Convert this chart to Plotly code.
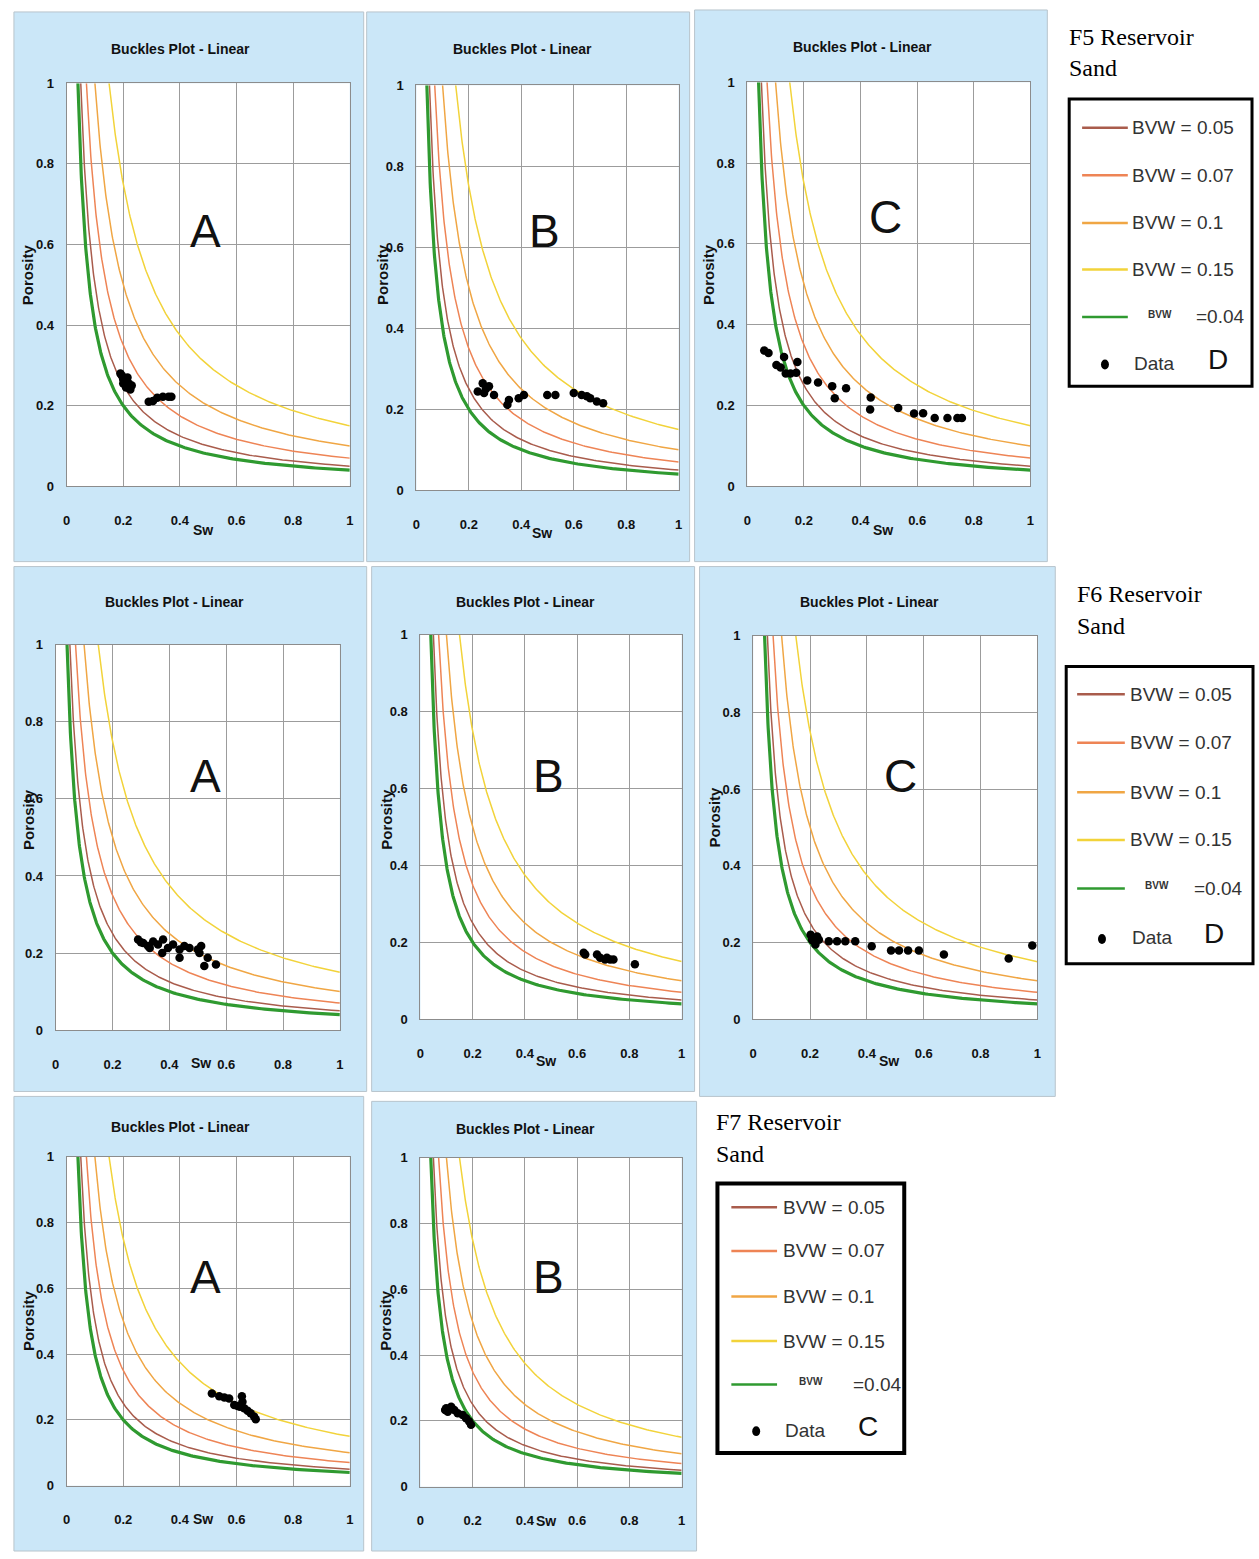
import numpy as np
import plotly.graph_objects as go

W, H = 1259, 1559

# ---------------- data ----------------
bvw_values = [0.05, 0.07, 0.1, 0.15, 0.04]
bvw_labels = ["BVW = 0.05", "BVW = 0.07", "BVW = 0.1", "BVW = 0.15"]
axis_ticks = [0, 0.2, 0.4, 0.6, 0.8, 1]
axis_tick_labels = ["0", "0.2", "0.4", "0.6", "0.8", "1"]
panel_letters = ["A", "B", "C", "A", "B", "C", "A", "B"]
group_titles = ["F5 Reservoir", "F6 Reservoir", "F7 Reservoir"]
legend_tags = ["D", "D", "C"]

f5a_sw = [0.19, 0.195, 0.2, 0.205, 0.21, 0.2, 0.215, 0.22, 0.225, 0.21, 0.22, 0.23, 0.2, 0.215,
          0.29, 0.305, 0.32, 0.34, 0.36, 0.37]
f5a_phi = [0.28, 0.275, 0.27, 0.265, 0.26, 0.255, 0.25, 0.245, 0.24, 0.245, 0.255, 0.25, 0.265, 0.27,
           0.21, 0.212, 0.22, 0.222, 0.222, 0.222]

f5b_sw = [0.234, 0.253, 0.277, 0.296, 0.258, 0.265, 0.347, 0.353, 0.39, 0.41, 0.499, 0.53,
          0.6, 0.63, 0.65, 0.663, 0.688, 0.712]
f5b_phi = [0.244, 0.264, 0.257, 0.235, 0.24, 0.25, 0.211, 0.223, 0.227, 0.235, 0.235, 0.235,
           0.24, 0.235, 0.232, 0.227, 0.219, 0.215]

f5c_sw = [0.06, 0.075, 0.13, 0.103, 0.118, 0.136, 0.153, 0.173, 0.177, 0.212, 0.25, 0.3, 0.309,
          0.349, 0.436, 0.434, 0.533, 0.589, 0.621, 0.662, 0.707, 0.742, 0.758]
f5c_phi = [0.336, 0.33, 0.32, 0.3, 0.294, 0.279, 0.279, 0.281, 0.308, 0.262, 0.257, 0.248, 0.218,
           0.243, 0.22, 0.19, 0.194, 0.18, 0.181, 0.169, 0.169, 0.169, 0.169]

f6a_sw = [0.29, 0.308, 0.325, 0.343, 0.36, 0.378, 0.375, 0.395, 0.413, 0.436, 0.436, 0.453, 0.471,
          0.5, 0.506, 0.512, 0.523, 0.535, 0.564, 0.331, 0.3]
f6a_phi = [0.235, 0.226, 0.218, 0.23, 0.222, 0.235, 0.2, 0.213, 0.222, 0.209, 0.188, 0.218, 0.213,
           0.209, 0.2, 0.218, 0.166, 0.188, 0.17, 0.213, 0.228]

f6b_sw = [0.625, 0.631, 0.676, 0.688, 0.707, 0.726, 0.739, 0.714, 0.821]
f6b_phi = [0.173, 0.168, 0.168, 0.16, 0.155, 0.155, 0.155, 0.16, 0.143]

f6c_sw = [0.202, 0.207, 0.219, 0.21, 0.231, 0.225, 0.266, 0.295, 0.324, 0.359, 0.417, 0.485,
          0.513, 0.545, 0.583, 0.671, 0.899, 0.982]
f6c_phi = [0.22, 0.207, 0.195, 0.205, 0.207, 0.216, 0.203, 0.203, 0.203, 0.203, 0.19, 0.179,
           0.179, 0.179, 0.179, 0.169, 0.158, 0.192]

f7a_sw = [0.513, 0.539, 0.557, 0.574, 0.592, 0.604, 0.619, 0.621, 0.627, 0.639, 0.65, 0.662,
          0.668, 0.612]
f7a_phi = [0.28, 0.272, 0.268, 0.265, 0.245, 0.242, 0.272, 0.255, 0.235, 0.228, 0.22, 0.21,
           0.202, 0.24]

f7b_sw = [0.099, 0.118, 0.13, 0.105, 0.143, 0.162, 0.175, 0.187, 0.194, 0.095, 0.11]
f7b_phi = [0.238, 0.243, 0.233, 0.228, 0.223, 0.218, 0.208, 0.198, 0.188, 0.233, 0.236]

panel_sw = [f5a_sw, f5b_sw, f5c_sw, f6a_sw, f6b_sw, f6c_sw, f7a_sw, f7b_sw]
panel_phi = [f5a_phi, f5b_phi, f5c_phi, f6a_phi, f6b_phi, f6c_phi, f7a_phi, f7b_phi]

# ---------------- styles / layout geometry (pixels) ----------------
curve_colors = ["#a95c4c", "#ee8455", "#f0a644", "#f2d33a", "#2f9a30"]
curve_widths = [1.5, 1.5, 1.5, 1.5, 3.2]
panel_bg = "#cbe7f8"
SANS = "Liberation Sans, Arial, sans-serif"
SERIF = "Liberation Serif, Times New Roman, serif"

# bg rect (x0,y0,x1,y1), plot (xl,xr,ytop,ybot), title, porosity label, Sw label, letter
panels = [
    dict(bg=(10, 5, 362, 560), plot=(63, 348, 77, 484), title=(178, 42), por=(24, 270), sw=(200, 528), let=(203, 226)),
    dict(bg=(365, 5, 690, 560), plot=(415, 679, 79, 488), title=(522, 42), por=(381, 270), sw=(541, 531), let=(544, 226)),
    dict(bg=(695, 3, 1050, 560), plot=(748, 1033, 76, 484), title=(864, 40), por=(709, 270), sw=(885, 528), let=(887, 212)),
    dict(bg=(10, 565, 365, 1095), plot=(52, 338, 644, 1033), title=(172, 601), por=(24, 820), sw=(198, 1066), let=(203, 776)),
    dict(bg=(370, 565, 695, 1095), plot=(419, 682, 634, 1022), title=(525, 601), por=(385, 820), sw=(545, 1064), let=(548, 776)),
    dict(bg=(700, 565, 1058, 1100), plot=(754, 1040, 635, 1022), title=(871, 601), por=(715, 818), sw=(891, 1064), let=(902, 776)),
    dict(bg=(10, 1100, 362, 1559), plot=(63, 348, 1161, 1493), title=(178, 1131), por=(24, 1326), sw=(200, 1527), let=(203, 1282)),
    dict(bg=(370, 1105, 697, 1559), plot=(419, 682, 1162, 1494), title=(525, 1133), por=(384, 1326), sw=(545, 1529), let=(548, 1282)),
]

legends = [
    dict(head=(1070, 30), box=(1072, 93, 1256, 383), lx=(1085, 1131), tx=1133,
         ys=[122, 170, 218, 265, 313, 360], small=1163, eq=1198, dot=1108, data=1135, tag=1222, bw=3),
    dict(head=(1078, 593), box=(1069, 666, 1257, 966), lx=(1080, 1128), tx=1131,
         ys=[694, 743, 793, 841, 890, 940], small=1160, eq=1196, dot=1105, data=1133, tag=1218, bw=3),
    dict(head=(715, 1126), box=(718, 1188, 906, 1460), lx=(732, 778), tx=782,
         ys=[1212, 1256, 1302, 1347, 1391, 1437], small=812, eq=852, dot=757, data=784, tag=870, bw=4),
]


def px(x):
    return x / W


def py(y):
    return 1 - y / H


fig = go.Figure()
shapes = []
annotations = []


def ann(text, x, y, size, family=SANS, color="#111", xanchor="center", yanchor="middle",
        angle=0, weight="normal"):
    annotations.append(dict(text=text, x=px(x), y=py(y), xref="paper", yref="paper",
                            showarrow=False, xanchor=xanchor, yanchor=yanchor, textangle=angle,
                            font=dict(size=size, family=family, color=color, weight=weight)))


layout_axes = {}
for i, p in enumerate(panels):
    n = "" if i == 0 else str(i + 1)
    x0, y0, x1, y1 = p["bg"]
    shapes.append(dict(type="rect", xref="paper", yref="paper", x0=px(x0), x1=px(x1), y0=py(y1), y1=py(y0),
                       fillcolor=panel_bg, line=dict(color="#b8c4cc", width=1), layer="below"))
    xl, xr, yt, yb = p["plot"]
    shapes.append(dict(type="rect", xref="paper", yref="paper", x0=px(xl), x1=px(xr), y0=py(yb), y1=py(yt),
                       fillcolor="white", line=dict(width=0), layer="below"))
    common = dict(range=[0, 1], tickvals=axis_ticks, ticktext=axis_tick_labels, showgrid=True,
                  gridcolor="#9c9c9c", gridwidth=1, showline=True, mirror=True, linecolor="#8c8c8c",
                  linewidth=1, zeroline=False, ticks="", fixedrange=True,
                  tickfont=dict(family=SANS, size=13, color="#111", weight="bold"))
    layout_axes["xaxis" + n] = dict(domain=[px(xl), px(xr)], anchor="y" + n, ticklabelstandoff=22, **common)
    layout_axes["yaxis" + n] = dict(domain=[py(yb), py(yt)], anchor="x" + n, ticklabelstandoff=9, **common)

    # Buckles curves: porosity = BVW / Sw
    for b, col, lw in zip(bvw_values, curve_colors, curve_widths):
        sw = np.geomspace(b, 1.0, 200)
        fig.add_trace(go.Scatter(x=sw, y=b / sw, mode="lines", line=dict(color=col, width=lw),
                                 xaxis="x" + n, yaxis="y" + n, showlegend=False, hoverinfo="skip"))
    fig.add_trace(go.Scatter(x=panel_sw[i], y=panel_phi[i], mode="markers",
                             marker=dict(color="black", size=8.5), xaxis="x" + n, yaxis="y" + n,
                             showlegend=False))

    ann("Buckles Plot - Linear", p["title"][0], p["title"][1], 14, weight="bold")
    ann("Porosity", p["por"][0], p["por"][1], 15, angle=-90, weight="bold")
    ann("Sw", p["sw"][0], p["sw"][1], 14, weight="bold")
    ann(panel_letters[i], p["let"][0], p["let"][1], 46)

# ---------------- legends ----------------
for k, lg in enumerate(legends):
    ann(group_titles[k], lg["head"][0], lg["head"][1], 24, family=SERIF, color="#000", xanchor="left")
    ann("Sand", lg["head"][0], lg["head"][1] + 32, 24, family=SERIF, color="#000", xanchor="left")
    bx0, by0, bx1, by1 = lg["box"]
    shapes.append(dict(type="rect", xref="paper", yref="paper", x0=px(bx0), x1=px(bx1), y0=py(by1), y1=py(by0),
                       fillcolor="white", line=dict(color="#000", width=lg["bw"]), layer="above"))
    for j in range(5):
        yy = lg["ys"][j]
        shapes.append(dict(type="line", xref="paper", yref="paper", x0=px(lg["lx"][0]), x1=px(lg["lx"][1]),
                           y0=py(yy), y1=py(yy), line=dict(color=curve_colors[j], width=2.5), layer="above"))
        if j < 4:
            ann(bvw_labels[j], lg["tx"], yy, 19, color="#333", xanchor="left")
        else:
            ann("BVW", lg["small"], yy - 3, 10, color="#333", xanchor="center", weight="bold")
            ann("=0.04", lg["eq"], yy, 19, color="#333", xanchor="left")
    yy = lg["ys"][5]
    shapes.append(dict(type="circle", xref="paper", yref="paper", x0=px(lg["dot"] - 4), x1=px(lg["dot"] + 4),
                       y0=py(yy + 6), y1=py(yy - 4), fillcolor="black", line=dict(width=0), layer="above"))
    ann("Data", lg["data"], yy, 19, color="#333", xanchor="left")
    ann(legend_tags[k], lg["tag"], yy - 4, 28, color="#111")

fig.update_layout(width=W, height=H, margin=dict(l=0, r=0, t=0, b=0), paper_bgcolor="white",
                  plot_bgcolor="white", showlegend=False, shapes=shapes, annotations=annotations,
                  **layout_axes)

fig.write_html("out.html")
